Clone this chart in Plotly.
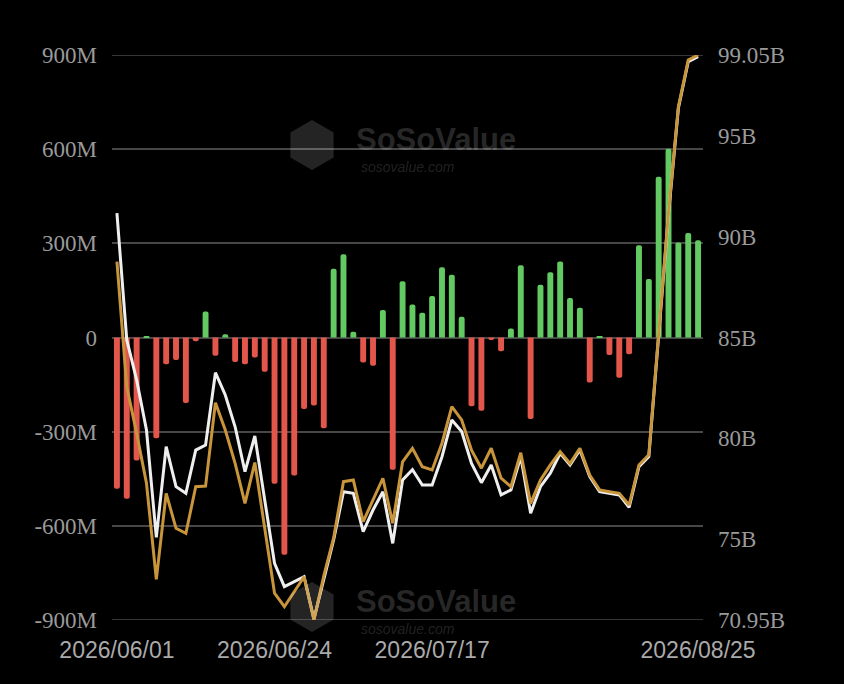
import math
import plotly.graph_objects as go

dates = [
    "2026/06/01", "2026/06/02", "2026/06/03", "2026/06/04", "2026/06/05",
    "2026/06/08", "2026/06/09", "2026/06/10", "2026/06/11", "2026/06/12",
    "2026/06/15", "2026/06/16", "2026/06/17", "2026/06/18",
    "2026/06/22", "2026/06/23", "2026/06/24", "2026/06/25", "2026/06/26",
    "2026/06/29", "2026/06/30",
    "2026/07/01", "2026/07/02",
    "2026/07/06", "2026/07/07", "2026/07/08", "2026/07/09", "2026/07/10",
    "2026/07/13", "2026/07/14", "2026/07/15", "2026/07/16", "2026/07/17",
    "2026/07/20", "2026/07/21", "2026/07/22", "2026/07/23", "2026/07/24",
    "2026/07/27", "2026/07/28", "2026/07/29", "2026/07/30", "2026/07/31",
    "2026/08/03", "2026/08/04", "2026/08/05", "2026/08/06", "2026/08/07",
    "2026/08/10", "2026/08/11", "2026/08/12", "2026/08/13", "2026/08/14",
    "2026/08/17", "2026/08/18", "2026/08/19", "2026/08/20", "2026/08/21",
    "2026/08/24", "2026/08/25",
]

# daily net inflow (millions USD)
net_inflow_m = [
    -482, -514, -392, 4, -321, -85, -72, -209, -12, 83,
    -58, 10, -78, -85, -64, -109, -466, -692, -440, -228,
    -217, -289, 219, 265, 18, -80, -90, 88, -421, 179,
    105, 79, 132, 224, 200, 66, -219, -233, -8, -44,
    29, 230, -260, 168, 208, 242, 126, 95, -143, 3,
    -56, -128, -53, 294, 186, 512, 601, 303, 333, 310,
]

# white line (billions USD)
white_b = [
    91.18, 84.88, 82.89, 80.40, 75.06, 79.57, 77.58, 77.25, 79.40, 79.65,
    83.25, 82.14, 80.56, 78.33, 80.10, 76.92, 73.77, 72.61, 72.85, 73.10,
    71.00, 73.04, 74.93, 77.33, 77.25, 75.34, 76.42, 77.33, 74.76, 77.91,
    78.43, 77.66, 77.66, 79.07, 80.90, 80.32, 78.74, 77.78, 78.66, 77.17,
    77.42, 79.07, 76.26, 77.58, 78.25, 79.24, 78.66, 79.41, 78.08, 77.34,
    77.25, 77.17, 76.55, 78.58, 79.08, 84.90, 91.15, 96.40, 98.72, 98.97,
]

# gold line (billions USD)
gold_b = [
    88.77, 82.55, 80.24, 77.75, 72.97, 77.25, 75.51, 75.26, 77.58, 77.61,
    81.76, 80.40, 78.74, 76.75, 78.78, 75.53, 72.28, 71.61, 72.36, 73.10,
    70.95, 73.14, 75.03, 77.83, 77.91, 75.84, 76.92, 78.00, 75.76, 78.82,
    79.49, 78.57, 78.41, 79.74, 81.56, 80.90, 79.40, 78.50, 79.49, 78.00,
    77.58, 79.27, 76.75, 77.91, 78.66, 79.32, 78.74, 79.49, 78.16, 77.42,
    77.33, 77.25, 76.67, 78.66, 79.16, 84.99, 91.24, 96.48, 98.80, 99.05,
]

left_ticks = [-900, -600, -300, 0, 300, 600, 900]
left_labels = ["-900M", "-600M", "-300M", "0", "300M", "600M", "900M"]
right_ticks = [70.95, 75, 80, 85, 90, 95, 99.05]
right_labels = ["70.95B", "75B", "80B", "85B", "90B", "95B", "99.05B"]
x_tick_dates = ["2026/06/01", "2026/06/24", "2026/07/17", "2026/08/25"]

GREEN = "#63c963"
RED = "#e3564b"
GOLD = "#c8953b"
WHITE = "#efefef"
TXT = "#9a9a9a"
GRID = "#474747"

bar_colors = [GREEN if v >= 0 else RED for v in net_inflow_m]

fig = go.Figure()
fig.add_trace(go.Bar(x=dates, y=net_inflow_m, marker=dict(color=bar_colors, line=dict(width=0)),
                     yaxis="y", showlegend=False))
fig.add_trace(go.Scatter(x=dates, y=white_b, mode="lines", line=dict(color=WHITE, width=3),
                         yaxis="y2", showlegend=False))
fig.add_trace(go.Scatter(x=dates, y=gold_b, mode="lines", line=dict(color=GOLD, width=3),
                         yaxis="y2", showlegend=False))

L, R, T, B = 112, 141, 55, 64
W, H = 844, 684
pw, ph = W - L - R, H - T - B


def px(xp):
    return (xp - L) / pw


def py(yp):
    return (H - B - yp) / ph


def hexagon(cx, cy, r):
    pts = []
    for k in range(6):
        a = math.radians(90 + 60 * k)
        pts.append((px(cx + r * math.cos(a)), py(cy - r * math.sin(a))))
    return "M " + " L ".join(f"{x:.4f},{y:.4f}" for x, y in pts) + " Z"


shapes = []
# edge gridlines (plotly drops gridlines at the exact range ends)
for yv in (left_ticks[0], left_ticks[-1]):
    shapes.append(dict(type="line", xref="paper", yref="y", x0=0, x1=1, y0=yv, y1=yv,
                       line=dict(color=GRID, width=1.5), layer="below"))

annotations = []
for cy in (145, 607):
    shapes.append(dict(type="path", xref="paper", yref="paper", path=hexagon(312, cy, 25),
                       fillcolor="rgba(255,255,255,0.14)", line=dict(width=0), layer="above"))
    annotations.append(dict(xref="paper", yref="paper", x=px(436), y=py(cy - 6), text="<b>SoSoValue</b>",
                            xanchor="center", yanchor="middle", showarrow=False,
                            font=dict(family="Liberation Sans", size=31, color="rgba(255,255,255,0.16)")))
    annotations.append(dict(xref="paper", yref="paper", x=px(408), y=py(cy + 22), text="<i>sosovalue.com</i>",
                            xanchor="center", yanchor="middle", showarrow=False,
                            font=dict(family="Liberation Sans", size=14, color="rgba(255,255,255,0.14)")))

fig.update_layout(
    width=W, height=H,
    margin=dict(l=L, r=R, t=T, b=B),
    paper_bgcolor="black", plot_bgcolor="black",
    bargap=0.4, barcornerradius=3,
    shapes=shapes, annotations=annotations,
    xaxis=dict(type="category", showgrid=False, zeroline=False, showline=False, ticks="",
               tickmode="array", tickvals=x_tick_dates, ticktext=x_tick_dates,
               ticklabelstandoff=14,
               tickfont=dict(family="Liberation Sans", size=23, color="#aaaaaa"),
               tickangle=0),
    yaxis=dict(range=[-900, 900], tickmode="array", tickvals=left_ticks, ticktext=left_labels,
               showgrid=True, gridcolor=GRID, gridwidth=1.5, zeroline=False, showline=False,
               ticks="", ticklabelstandoff=14,
               tickfont=dict(family="Liberation Serif", size=23, color=TXT)),
    yaxis2=dict(range=[70.95, 99.05], overlaying="y", side="right", tickmode="array",
                tickvals=right_ticks, ticktext=right_labels, showgrid=False, zeroline=False,
                showline=False, ticks="", ticklabelstandoff=14,
                tickfont=dict(family="Liberation Serif", size=23, color=TXT)),
)

fig.write_html(
    "out.html",
    config={"displayModeBar": False},
    post_script="document.body.style.margin='0';document.body.style.background='black';"
                "document.documentElement.style.background='black';",
)
